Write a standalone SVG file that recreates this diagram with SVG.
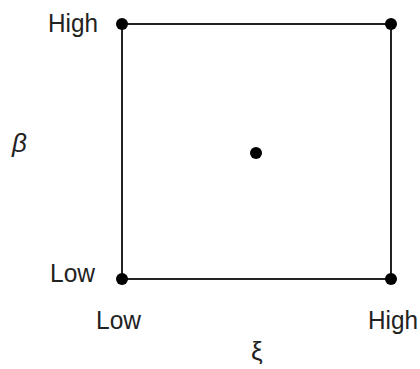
<svg xmlns="http://www.w3.org/2000/svg" width="420" height="369" viewBox="0 0 420 369">
<style>
.lbl{font-family:"Liberation Sans",Arial,sans-serif;font-size:26px;fill:#222}
.dot{fill:#000}
.edge{stroke:#222;stroke-width:2;fill:none}
</style>
<rect width="420" height="369" fill="#fff"/>
<g id="connectors">
<line class="edge" x1="122" y1="24" x2="391" y2="24"/>
<line class="edge" x1="391" y1="24" x2="391" y2="279"/>
<line class="edge" x1="391" y1="279" x2="122" y2="279"/>
<line class="edge" x1="122" y1="279" x2="122" y2="24"/>
</g>
<g id="node-hh"><circle class="dot" cx="391" cy="24" r="6"/></g>
<g id="node-lh"><circle class="dot" cx="122" cy="24" r="6"/></g>
<g id="node-ll"><circle class="dot" cx="122" cy="279" r="6"/></g>
<g id="node-hl"><circle class="dot" cx="391" cy="279" r="6"/></g>
<g id="node-center"><circle class="dot" cx="256" cy="153" r="6"/></g>
<g id="labels">
<text class="lbl" x="48" y="32" textLength="50" lengthAdjust="spacingAndGlyphs">High</text>
<text class="lbl" x="50" y="282" textLength="45" lengthAdjust="spacingAndGlyphs">Low</text>
<text class="lbl" x="12" y="152" font-style="italic">β</text>
<text class="lbl" x="96" y="329" textLength="45" lengthAdjust="spacingAndGlyphs">Low</text>
<text class="lbl" x="368" y="329" textLength="50" lengthAdjust="spacingAndGlyphs">High</text>
<text class="lbl" x="251" y="360">ξ</text>
</g>
</svg>
